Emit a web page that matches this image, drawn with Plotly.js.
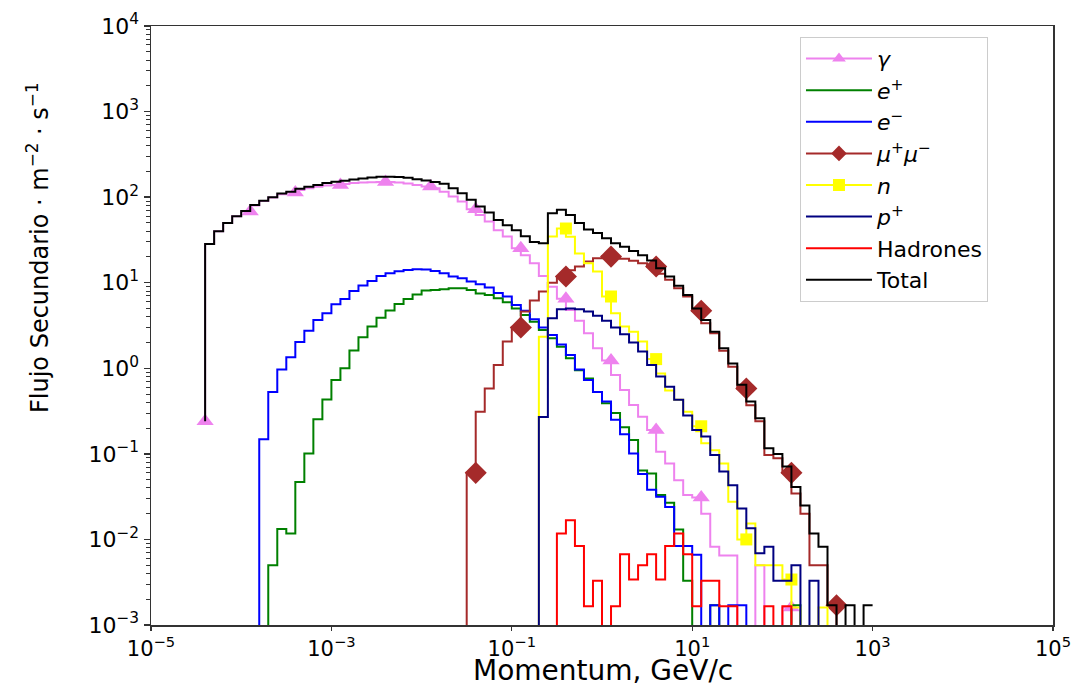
<!DOCTYPE html>
<html><head><meta charset="utf-8">
<script src="https://cdn.plot.ly/plotly-3.0.1.min.js"></script>
<style>html,body{margin:0;padding:0;background:#fff}#chart{width:1084px;height:689px}</style>
</head><body><div id="chart"></div>
<script>
// bin edge exponents (log10 of momentum, GeV/c)
const binEdgeExponent = [-4.4,-4.3,-4.2,-4.1,-4.0,-3.9,-3.8,-3.7,-3.6,-3.5,
  -3.4,-3.3,-3.2,-3.1,-3.0,-2.9,-2.8,-2.7,-2.6,-2.5,
  -2.4,-2.3,-2.2,-2.1,-2.0,-1.9,-1.8,-1.7,-1.6,-1.5,
  -1.4,-1.3,-1.2,-1.1,-1.0,-0.9,-0.8,-0.7,-0.6,-0.5,
  -0.4,-0.3,-0.2,-0.1,0.0,0.1,0.2,0.3,0.4,0.5,
  0.6,0.7,0.8,0.9,1.0,1.1,1.2,1.3,1.4,1.5,
  1.6,1.7,1.8,1.9,2.0,2.1,2.2,2.3,2.4,2.5,
  2.6,2.7,2.8,2.9,3.0];

const gammaFlux = [0.24,28.4,40,50,60,68,80,90,99,108,
  113,121,127,132,137,139,142,146,148,149,
  150,150,148,144,139,133,127,116,102,89,
  72,62,52,41,34.6,25.3,21,16.9,12,9,
  6.5,4.8,3.6,2.57,1.71,1.23,0.835,0.557,0.372,0.272,
  0.19,0.106,0.077,0.049,0.033,0.031,0.020,0.0082,0.0065,0.0065,
  0,0,0.005,0,0,0.0016,0,0,0,0,
  0,0,0,0,0];

const positronFlux = [0,0,0,0,0,0,0,0,0.005,0.0132,
  0.0117,0.047,0.101,0.253,0.433,0.73,1.0,1.61,2.3,3.07,
  3.9,4.72,5.65,6.46,7.26,8.09,8.2,8.4,8.6,8.6,
  8.2,7.5,7.2,6.6,5.9,5.0,4.2,3.5,2.8,2.24,
  1.79,1.31,0.95,0.76,0.53,0.39,0.30,0.204,0.145,0.064,
  0.059,0.033,0.0268,0.0131,0.0033,0,0,0.0017,0,0,
  0,0,0,0,0,0,0.0017,0,0,0,
  0,0,0,0,0];

const electronFlux = [0,0,0,0,0,0,0,0.148,0.53,0.97,
  1.35,2.03,2.75,3.67,4.4,5.6,6.45,8.0,9.25,10.5,
  12.0,12.9,13.6,14.1,14.4,14.3,13.7,12.9,11.8,11.3,
  10.3,9.6,8.8,7.6,6.9,5.5,4.7,3.75,3.0,2.45,
  1.9,1.43,0.97,0.73,0.53,0.41,0.25,0.17,0.101,0.058,
  0.038,0.0315,0.024,0.0084,0.0084,0.0066,0,0.0017,0,0.0017,
  0.0017,0,0,0,0,0,0,0,0,0,
  0,0,0,0,0];

const muonFlux = [0,0,0,0,0,0,0,0,0,0,
  0,0,0,0,0,0,0,0,0,0,
  0,0,0,0,0,0,0,0,0,0,
  0.06,0.31,0.58,1.09,2.05,3.0,4.6,6.2,7.9,10,
  11.8,14,15.5,17.7,19.3,20.2,19.9,19.1,18,16.9,
  15.5,12.7,10.8,8.6,6.9,4.7,3.36,2.57,1.6,1.04,
  0.58,0.37,0.24,0.097,0.089,0.06,0.0345,0.020,0.005,0.005,
  0.0017,0,0,0,0];

const neutronFlux = [0,0,0,0,0,0,0,0,0,0,
  0,0,0,0,0,0,0,0,0,0,
  0,0,0,0,0,0,0,0,0,0,
  0,0,0,0,0,0,0,0,2.34,34.7,
  43,34.5,22,16.9,13.5,6.9,4.4,3.07,2.68,2.05,
  1.28,0.87,0.55,0.43,0.31,0.21,0.133,0.11,0.077,0.0275,
  0.01,0.0154,0.005,0.005,0.005,0.0034,0.0016,0,0,0.0016,
  0,0,0,0,0];

const protonFlux = [0,0,0,0,0,0,0,0,0,0,
  0,0,0,0,0,0,0,0,0,0,
  0,0,0,0,0,0,0,0,0,0,
  0,0,0,0,0,0,0,0,0.27,3.85,
  4.9,5.0,4.9,4.6,4.1,3.6,3.0,2.5,2.0,1.57,
  1.09,0.80,0.61,0.43,0.28,0.19,0.16,0.097,0.062,0.043,
  0.023,0.0135,0.0069,0.0082,0.0033,0.0033,0.005,0,0.0033,0,
  0,0,0,0,0];

const hadronFlux = [0,0,0,0,0,0,0,0,0,0,
  0,0,0,0,0,0,0,0,0,0,
  0,0,0,0,0,0,0,0,0,0,
  0,0,0,0,0,0,0,0,0,0,
  0.0117,0.0168,0.0084,0.00166,0.0033,0,0.00166,0.0067,0.0034,0.005,
  0.0067,0.0034,0.0084,0.0117,0.0067,0.00166,0.0033,0.0033,0.00166,0.00166,
  0,0,0,0.00166,0,0.00166,0,0,0,0,
  0,0,0,0,0];

const totalFlux = [0.24,28.4,40,50,60,69,81,91,100,110,
  116,125,132,139,146,151,155,161,165,170,
  173,173,172,168,162,156,150,143,127,111,
  93,78,66,54,47,41,35,30,29,65,
  71,62,50,42,38,33,29,26.4,23.5,21,
  18.2,14.8,11.8,9.2,7.2,5.0,3.67,2.68,1.71,1.14,
  0.64,0.41,0.26,0.116,0.0995,0.071,0.041,0.025,0.0117,0.0082,
  0.0017,0,0.0017,0,0.0017];

const seriesLabels = ['<i>γ</i>','<i>e</i><sup>+</sup>','<i>e</i><sup>−</sup>',
  '<i>μ</i><sup>+</sup><i>μ</i><sup>−</sup>','<i>n</i>','<i>p</i><sup>+</sup>','Hadrones','Total'];

const xTickVals = [1e-5,1e-3,1e-1,1e1,1e3,1e5];
const xTickText = ['10<sup>−5</sup>','10<sup>−3</sup>','10<sup>−1</sup>','10<sup>1</sup>','10<sup>3</sup>','10<sup>5</sup>'];
const yTickVals = [1e-3,1e-2,1e-1,1,1e1,1e2,1e3,1e4];
const yTickText = ['10<sup>−3</sup>','10<sup>−2</sup>','10<sup>−1</sup>','10<sup>0</sup>','10<sup>1</sup>','10<sup>2</sup>','10<sup>3</sup>','10<sup>4</sup>'];

const xEdges = binEdgeExponent.map(e => Math.pow(10, e));
const FLOOR = 1e-7; // empty bins drop below the axis, like a clipped log plot
const clip = arr => arr.map(v => v > 0 ? v : FLOOR);
const markEvery = (n, s) => Array.from({length: n}, (_, i) => i % 5 === 0 ? s : 0);

function stepTrace(vals, name, color, symbol, msize) {
  const t = {
    x: xEdges, y: clip(vals), name: name, type: 'scatter',
    mode: symbol ? 'lines+markers' : 'lines',
    line: {shape: 'vh', color: color, width: 2},
    hoverinfo: 'x+y+name'
  };
  if (symbol) t.marker = {symbol: symbol, color: color, opacity: 1,
    line: {width: 0}, size: markEvery(vals.length, msize)};
  return t;
}

const data = [
  stepTrace(gammaFlux, seriesLabels[0], '#ee82ee', 'triangle-up', 15),
  stepTrace(positronFlux, seriesLabels[1], '#008000'),
  stepTrace(electronFlux, seriesLabels[2], '#0000ff'),
  stepTrace(muonFlux, seriesLabels[3], '#a52a2a', 'diamond', 17),
  stepTrace(neutronFlux, seriesLabels[4], '#ffff00', 'square', 12),
  stepTrace(protonFlux, seriesLabels[5], '#000080'),
  stepTrace(hadronFlux, seriesLabels[6], '#ff0000'),
  stepTrace(totalFlux, seriesLabels[7], '#000000')
];

const minorY = [];
for (let d = -3; d < 4; d++) for (let m = 2; m <= 9; m++) minorY.push(m * Math.pow(10, d));

const layout = {
  width: 1084, height: 689,
  margin: {l: 151, r: 31, t: 26, b: 64},
  paper_bgcolor: '#fff', plot_bgcolor: '#fff',
  showlegend: true,
  xaxis: {
    type: 'log', range: [-5, 5], tickmode: 'array', tickvals: xTickVals, ticktext: xTickText,
    ticks: 'outside', ticklen: 4, tickwidth: 1.3, tickcolor: '#333',
    showline: true, mirror: true, linecolor: '#333', linewidth: 1.5,
    showgrid: false, zeroline: false, tickfont: {family: 'DejaVu Sans', size: 21, color: '#000'}
  },
  yaxis: {
    type: 'log', range: [-3, 4], tickmode: 'array', tickvals: yTickVals, ticktext: yTickText,
    ticks: 'outside', ticklen: 6, tickwidth: 1.3, tickcolor: '#333',
    showline: true, mirror: true, linecolor: '#333', linewidth: 1.5,
    showgrid: false, zeroline: false, tickfont: {family: 'DejaVu Sans', size: 22, color: '#000'},
    minor: {tickmode: 'array', tickvals: minorY, ticks: 'outside', ticklen: 3.5, tickwidth: 1, tickcolor: '#333', showgrid: false}
  },
  legend: {
    x: 0.7195, y: 0.982, xanchor: 'left', yanchor: 'top',
    bgcolor: 'rgba(255,255,255,0.85)', bordercolor: '#cccccc', borderwidth: 1,
    font: {family: 'DejaVu Sans', size: 22, color: '#000'},
    itemsizing: 'constant', itemwidth: 66, tracegroupgap: 0
  },
  annotations: [
    {text: 'Flujo Secundario · m<sup>−2</sup> · s<sup>−1</sup>', xref: 'paper', yref: 'paper',
     x: -0.1253, y: 0.631, xanchor: 'center', yanchor: 'middle', textangle: -90, showarrow: false,
     font: {family: 'DejaVu Sans', size: 24, color: '#000'}},
    {text: 'Momentum, GeV/c', xref: 'paper', yref: 'paper',
     x: 0.501, y: -0.1068, xanchor: 'center', yanchor: 'bottom', showarrow: false,
     font: {family: 'DejaVu Sans', size: 28, color: '#000'}}
  ]
};

Plotly.newPlot('chart', data, layout, {staticPlot: true, displayModeBar: false}).then(function (gd) {
  gd.querySelectorAll('.legend .js-line').forEach(function (p) { p.style.strokeWidth = '2px'; });
});
</script>
</body></html>
